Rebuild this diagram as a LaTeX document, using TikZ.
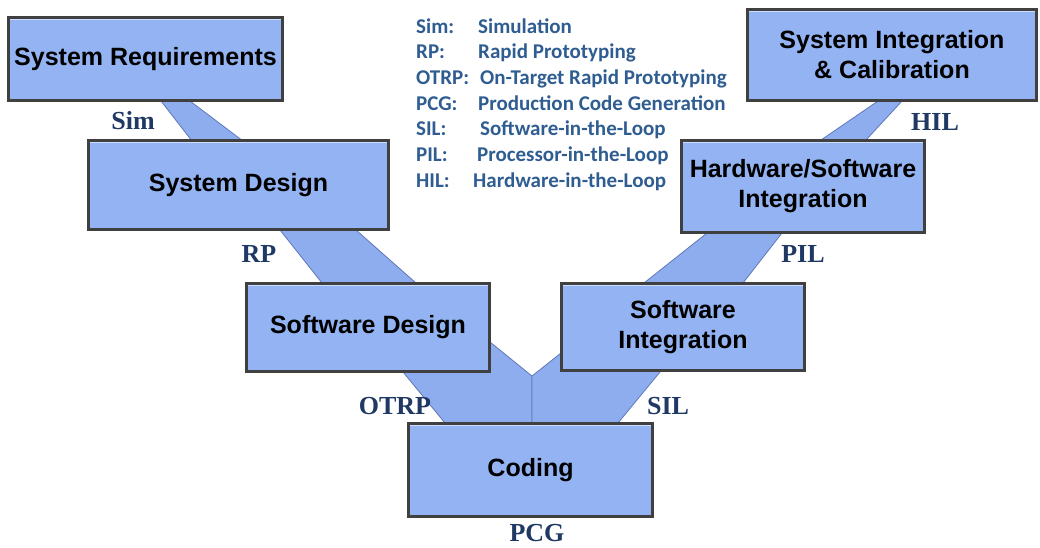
\documentclass[tikz,border=0pt]{standalone}
\usepackage{fontspec}
\setmainfont{Liberation Serif}
\setsansfont{Liberation Sans}
\newfontfamily\legendfont{Carlito}
\usetikzlibrary{calc}

\definecolor{boxblue}{RGB}{147,179,242}
\definecolor{bandblue}{RGB}{141,173,238}
\definecolor{bandedge}{RGB}{96,120,184}
\definecolor{boxedge}{RGB}{64,64,64}
\definecolor{labelblue}{RGB}{31,56,100}
\definecolor{legendblue}{RGB}{47,93,145}

\begin{document}
\begin{tikzpicture}[x=1pt, y=-1pt]
    \tikzstyle{every node}=[inner sep=0]
    \tikzstyle{stage}=[draw=boxedge, fill=boxblue, line width=2.5, align=center, font=\sffamily\bfseries\fontsize{25}{30}\selectfont,
        path picture={\draw[boxblue!45!white, line width=4] (path picture bounding box.north west) -- (path picture bounding box.north east);}]
    \tikzstyle{band}=[fill=bandblue, draw=bandedge, line width=.8, line join=round]
    \tikzstyle{tool}=[text=labelblue, font=\bfseries\fontsize{26}{26}\selectfont]
    \tikzstyle{key}=[anchor=base west, text=legendblue, font=\legendfont\bfseries\fontsize{21}{21}\selectfont]
    \useasboundingbox (0,0) rectangle (1040,547);
    % Draw the two arms of the V first, the boxes go on top of them
    \draw[band] (161,101) -- (192,141) -- (280,230) -- (322,283) -- (403,372) -- (445,423)
        -- (532,423) -- (532,376) -- (490,342) -- (416,283) -- (356,230) -- (243,141) -- (190,101) -- cycle;
    \draw[band] (532,423) -- (532,376) -- (561,353) -- (644,283) -- (707,233) -- (821,140) -- (878,101)
        -- (902,101) -- (866,140) -- (782,233) -- (743,283) -- (660,372) -- (618,423) -- cycle;
    % Left side of the V
    \node[stage, minimum width=274, minimum height=83] (SR) at (145.5,59) {System Requirements};
    \node[stage, minimum width=300, minimum height=89] (SD) at (238.5,185) {System Design};
    \node[stage, minimum width=243, minimum height=88] (SWD) at (368,327.5) {Software Design};
    \node[stage, minimum width=244, minimum height=93] (CD) at (530.5,470) {Coding};
    % Right side of the V
    \node[stage, minimum width=243, minimum height=87] (SWI) at (683,327) {Software\\Integration};
    \node[stage, minimum width=243, minimum height=92] (HSI) at (803,186.5) {Hardware/Software\\Integration};
    \node[stage, minimum width=289, minimum height=91] (SIC) at (892,55) {System Integration\\\& Calibration};
    % Labels next to the arms
    \node[tool] (Sim) at (133,121) {Sim};
    \node[tool] (RP) at (259,254) {RP};
    \node[tool] (OTRP) at (395,406) {OTRP};
    \node[tool] (PCG) at (537,533) {PCG};
    \node[tool] (SIL) at (668,406) {SIL};
    \node[tool] (PIL) at (803,254) {PIL};
    \node[tool] (HIL) at (935,122) {HIL};
    % Legend
    \node[key] (kSim) at (416,33) {Sim:};
    \node[key] (dSim) at (478,33) {Simulation};
    \node[key] (kRP) at (416,58.7) {RP:};
    \node[key] (dRP) at (478,58.7) {Rapid Prototyping};
    \node[key] (kOTRP) at (416,84.4) {OTRP:};
    \node[key] (dOTRP) at (480,84.4) {On-Target Rapid Prototyping};
    \node[key] (kPCG) at (416,110.1) {PCG:};
    \node[key] (dPCG) at (478,110.1) {Production Code Generation};
    \node[key] (kSIL) at (416,135.8) {SIL:};
    \node[key] (dSIL) at (480,135.8) {Software-in-the-Loop};
    \node[key] (kPIL) at (416,161.5) {PIL:};
    \node[key] (dPIL) at (477,161.5) {Processor-in-the-Loop};
    \node[key] (kHIL) at (416,187.2) {HIL:};
    \node[key] (dHIL) at (473,187.2) {Hardware-in-the-Loop};
\end{tikzpicture}
\end{document}
